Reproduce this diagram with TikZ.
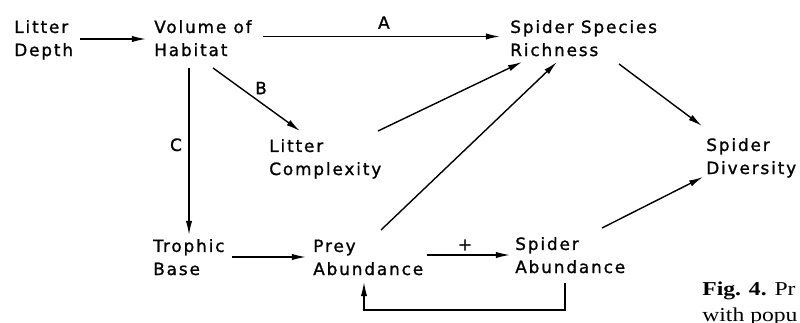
\documentclass[tikz,border=0pt]{standalone}
\usepackage{fontspec}
\newfontfamily\diagfont[LetterSpace=11,FakeBold=1.2]{DejaVu Sans}
\newfontfamily\capfont{Liberation Serif}
\usetikzlibrary{arrows.meta}
\tikzset{
  lbl/.style={inner sep=0pt, anchor=base west, align=left,
    font=\diagfont\fontsize{12}{16.4}\selectfont},
  tag/.style={inner sep=0pt, font=\diagfont\fontsize{12}{13}\selectfont},
  arr/.style={line width=1pt, -{Latex[length=10pt,width=4.5pt]}},
  captext/.style={inner sep=0pt, anchor=base west, align=left,
    xscale=1.2, transform shape,
    font=\capfont\fontsize{14}{17.8}\selectfont}
}
\begin{document}
\begin{tikzpicture}[x=0.025cm, y=-0.025cm]
\useasboundingbox (0,0) rectangle (800,322);
% nodes (base west = baseline of the last line)
\node[lbl] (ld)   at (14,56)   {Litter\\Depth};
\node[lbl] (vol)  at (154,56)  {Volume of\\Habitat};
\node[lbl] (rich) at (510,56)  {Spider Species\\Richness};
\node[lbl] (lc)   at (269,175) {Litter\\Complexity};
\node[lbl] (div)  at (706,174) {Spider\\Diversity};
\node[lbl] (tb)   at (153,275) {Trophic\\Base};
\node[lbl] (prey) at (313,275) {Prey\\Abundance};
\node[lbl] (sa)   at (515,273) {Spider\\Abundance};
\node[captext] (cap) at (702,321) {\textbf{Fig. 4.} Pr\\with popu};
% connectors
\draw[arr] ([shift={(66,-17)}]ld.base west) -- ([shift={(-8,-17)}]vol.base west);
\draw[arr] ([shift={(109,-19.5)}]vol.base west) -- node[tag, pos=0.51, shift={(0,-14)}] {A} ([shift={(-10,-19.5)}]rich.base west);
\draw[arr] ([shift={(59,12)}]vol.base west) -- node[tag, pos=0.5, shift={(4.5,-11.5)}] {B} ([shift={(31,-44)}]lc.base west);
\draw[arr] ([shift={(35,12)}]vol.base west) -- node[tag, pos=0.46, shift={(-13,0)}] {C} ([shift={(36,-40)}]tb.base west);
\draw[arr] ([shift={(109,-44)}]lc.base west) -- ([shift={(12,6)}]rich.base west);
\draw[arr] ([shift={(68,-45)}]prey.base west) -- ([shift={(47,6)}]rich.base west);
\draw[arr] ([shift={(109,8)}]rich.base west) -- ([shift={(-4,-48)}]div.base west);
\draw[arr] ([shift={(79,-18)}]tb.base west) -- ([shift={(-7,-18)}]prey.base west);
\draw[arr] ([shift={(114,-20)}]prey.base west) -- node[tag, pos=0.5, shift={(-3.5,-10)}] {+} ([shift={(-5,-18)}]sa.base west);
\draw[arr] ([shift={(87,-45)}]sa.base west) -- ([shift={(-3,3)}]div.base west);
\draw[arr] ([shift={(50,10)}]sa.base west) -- ++(0,27) -| ([shift={(51,7)}]prey.base west);
\end{tikzpicture}
\end{document}
